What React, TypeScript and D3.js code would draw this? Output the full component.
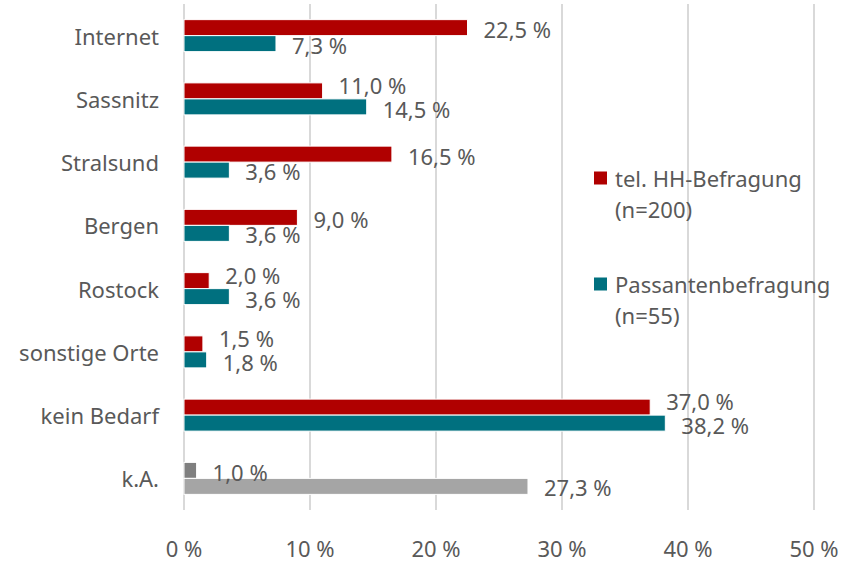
import * as d3 from "d3";
import { useRef, useEffect } from "react";

// categories (top to bottom)
const categories = ["Internet", "Sassnitz", "Stralsund", "Bergen", "Rostock", "sonstige Orte", "kein Bedarf", "k.A."];
// tel. HH-Befragung (n=200)
const telValues = [22.5, 11.0, 16.5, 9.0, 2.0, 1.5, 37.0, 1.0];
// Passantenbefragung (n=55)
const passValues = [7.3, 14.5, 3.6, 3.6, 3.6, 1.8, 38.2, 27.3];
const xTicks = [0, 10, 20, 30, 40, 50];
const seriesNames = [["tel. HH-Befragung", "(n=200)"], ["Passantenbefragung", "(n=55)"]];

export default function App() {
    const ref = useRef<SVGSVGElement>(null);

    const width = 846;
    const height = 562;
    const marginLeft = 184;
    const plotRight = 814;
    const plotTop = 4;
    const plotBottom = 510;

    const fontFamily = "'Noto Sans', 'Open Sans', sans-serif";
    const fontSize = 22;
    const textColor = "#595959";
    const red = "#B00000";
    const teal = "#00707F";

    useEffect(() => {
        const svg = d3.select(ref.current);
        svg.selectAll("*").remove();

        const x = d3.scaleLinear().domain([0, 50]).range([marginLeft, plotRight]);
        const y = d3.scaleBand().domain(categories).range([plotTop, plotBottom]).padding(0);
        const barH = 16;

        // grid
        svg.append("g")
            .selectAll("line")
            .data(xTicks)
            .join("line")
            .attr("x1", d => x(d))
            .attr("x2", d => x(d))
            .attr("y1", plotTop)
            .attr("y2", plotBottom)
            .attr("stroke", "#d9d9d9")
            .attr("stroke-width", 2);

        // x tick labels
        svg.append("g")
            .selectAll("text")
            .data(xTicks)
            .join("text")
            .attr("x", d => x(d))
            .attr("y", 548)
            .attr("text-anchor", "middle")
            .attr("dominant-baseline", "central")
            .attr("font-family", fontFamily)
            .attr("font-size", fontSize)
            .attr("fill", textColor)
            .text(d => `${d} %`);

        // category labels
        svg.append("g")
            .selectAll("text")
            .data(categories)
            .join("text")
            .attr("x", 159)
            .attr("y", d => y(d)! + y.bandwidth() / 2)
            .attr("text-anchor", "end")
            .attr("dominant-baseline", "central")
            .attr("font-family", fontFamily)
            .attr("font-size", fontSize)
            .attr("fill", textColor)
            .text(d => d);

        const fmt = (v: number) => v.toFixed(1).replace(".", ",") + " %";
        const estWidth = (s: string) => s.length * 11;

        const rows = categories.map((c, i) => {
            const center = y(c)! + y.bandwidth() / 2;
            const isKA = c === "k.A.";
            const telLabelX = x(telValues[i]) + 16;
            const passLabelX = x(passValues[i]) + 16;
            // labels colliding horizontally get pushed apart a little
            const overlap = telLabelX < passLabelX + estWidth(fmt(passValues[i])) &&
                passLabelX < telLabelX + estWidth(fmt(telValues[i]));
            return [
                { c, v: telValues[i], y0: center - barH, color: isKA ? "#7f7f7f" : red,
                  lx: telLabelX, ly: center - barH / 2 + (overlap ? -6 : 1.5) },
                { c, v: passValues[i], y0: center, color: isKA ? "#a5a5a5" : teal,
                  lx: passLabelX, ly: center + barH / 2 + (overlap ? 2 : 1) },
            ];
        }).flat();

        svg.append("g")
            .selectAll("rect")
            .data(rows)
            .join("rect")
            .attr("x", x(0))
            .attr("y", d => d.y0)
            .attr("width", d => x(d.v) - x(0))
            .attr("height", barH)
            .attr("fill", d => d.color)
            .attr("stroke", "#fff")
            .attr("stroke-width", 1);

        svg.append("g")
            .selectAll("text")
            .data(rows)
            .join("text")
            .attr("x", d => d.lx)
            .attr("y", d => d.ly)
            .attr("dominant-baseline", "central")
            .attr("font-family", fontFamily)
            .attr("font-size", fontSize)
            .attr("fill", textColor)
            .text(d => fmt(d.v));

        // legend
        const legendColors = [red, teal];
        const legendTops = [178, 284];
        const legend = svg.append("g");
        seriesNames.forEach((lines, i) => {
            legend.append("rect")
                .attr("x", 594)
                .attr("y", legendTops[i] - 6.5)
                .attr("width", 13)
                .attr("height", 13)
                .attr("fill", legendColors[i]);
            lines.forEach((ln, j) => {
                legend.append("text")
                    .attr("x", 615)
                    .attr("y", legendTops[i] + j * 31)
                    .attr("dominant-baseline", "central")
                    .attr("font-family", fontFamily)
                    .attr("font-size", fontSize)
                    .attr("fill", textColor)
                    .text(ln);
            });
        });
    }, []);

    return (
        <svg ref={ref} width={width} height={height} viewBox={`0 0 ${width} ${height}`}
            style={{ position: "absolute", left: 0, top: 0, background: "#fff" }} />
    );
}
